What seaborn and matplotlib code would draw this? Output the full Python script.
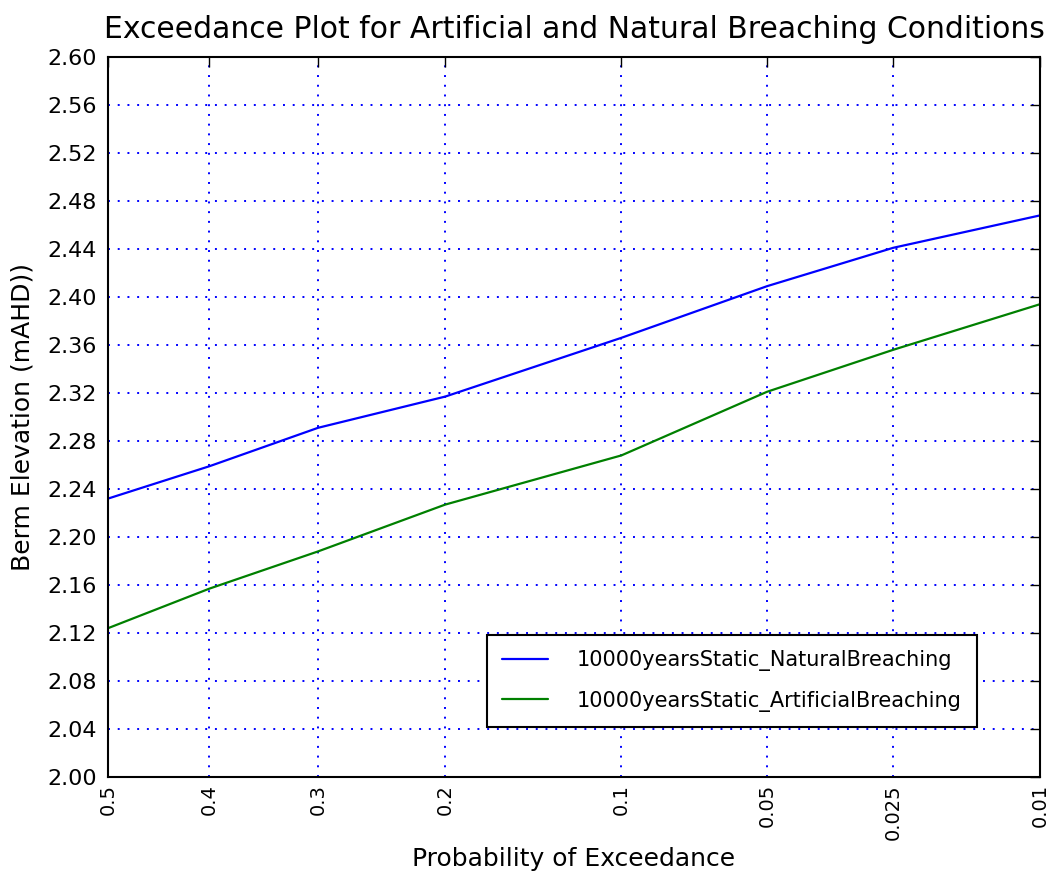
import matplotlib
matplotlib.use("Agg")
import matplotlib.pyplot as plt
import seaborn as sns
import pandas as pd
from statistics import NormalDist

# Exceedance probabilities and the berm elevations for each breaching scenario
prob = [0.5, 0.4, 0.3, 0.2, 0.1, 0.05, 0.025, 0.01]
tick_labels = ["0.5", "0.4", "0.3", "0.2", "0.1", "0.05", "0.025", "0.01"]
natural = [2.232, 2.259, 2.291, 2.317, 2.366, 2.409, 2.441, 2.468]
artificial = [2.124, 2.157, 2.188, 2.227, 2.268, 2.321, 2.356, 2.394]
series_names = ["10000yearsStatic_NaturalBreaching", "10000yearsStatic_ArtificialBreaching"]
y_ticks = [2.00 + 0.04 * i for i in range(16)]

# normal-probability axis: plot against the standard normal quantile
nd = NormalDist()
z = [nd.inv_cdf(1 - p) for p in prob]

df = pd.DataFrame({
    "z": z * 2,
    "elev": natural + artificial,
    "series": [series_names[0]] * len(z) + [series_names[1]] * len(z),
})

sns.set_style("white")
plt.rcParams["font.family"] = ["DejaVu Sans"]
plt.rcParams["text.color"] = "black"
plt.rcParams["axes.labelcolor"] = "black"

W, H = 1052, 872
fig = plt.figure(figsize=(W / 100, H / 100), dpi=100)
ax = fig.add_axes([108 / W, 1 - 777 / H, (1040 - 108) / W, (777 - 57) / H])

sns.lineplot(data=df, x="z", y="elev", hue="series",
             palette={series_names[0]: "#0000ff", series_names[1]: "#008000"},
             linewidth=1.6, ax=ax, sort=False)

ax.set_xlim(z[0], z[-1])
ax.set_ylim(2.0, 2.6)
ax.set_xticks(z)
ax.set_xticklabels(tick_labels, rotation=90)
ax.set_yticks(y_ticks)
ax.set_yticklabels([f"{v:.2f}" for v in y_ticks])

ax.grid(True, color="#0000ff", linestyle=(0, (1, 4)), linewidth=1.4)
ax.tick_params(direction="in", length=7, width=1, top=True, right=True,
               colors="black")
ax.tick_params(axis="y", pad=8, labelsize=16)
ax.tick_params(axis="x", pad=5, labelsize=14)
for s in ax.spines.values():
    s.set_color("black")
    s.set_linewidth(1.5)

ax.set_title("Exceedance Plot for Artificial and Natural Breaching Conditions",
             fontsize=21.5, pad=14)
ax.set_xlabel("Probability of Exceedance", fontsize=18, va="bottom")
ax.xaxis.set_label_coords(574 / W, 1 / H, transform=fig.transFigure)
ax.set_ylabel("Berm Elevation (mAHD))", fontsize=18)
ax.yaxis.set_label_coords(35 / W, 0.5 * (1 - 777 / H) + 0.5 * (1 - 57 / H),
                          transform=fig.transFigure)

handles, labels = ax.get_legend_handles_labels()
leg = ax.legend(handles, labels, loc="lower right", bbox_to_anchor=(0.9324, 0.070),
                fontsize=15, frameon=True, fancybox=False, framealpha=1,
                edgecolor="black", handlelength=2.2, handletextpad=1.4,
                borderpad=0.72, labelspacing=0.95, borderaxespad=0)
leg.get_frame().set_linewidth(1.5)

fig.savefig("out.png", dpi=100)
